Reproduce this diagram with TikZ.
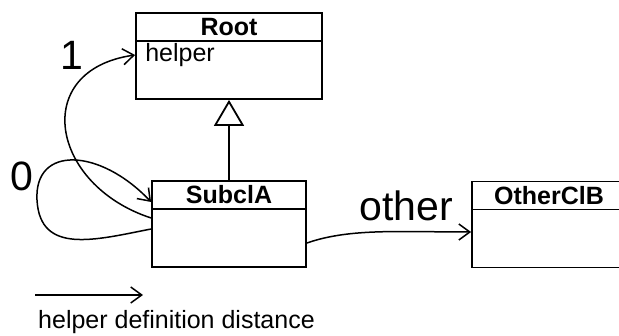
\documentclass[tikz,border=0pt]{standalone}
\usepackage{fontspec}
\setmainfont{Liberation Sans}
\usepackage{tikz}
\usetikzlibrary{
  positioning,
  calc,
  arrows.meta
}

\tikzset{
  classbox/.style={draw,line width=1.8pt,inner sep=0pt,minimum width=154pt,minimum height=86pt},
  classtitle/.style={font=\fontsize{25}{28}\selectfont\bfseries,inner sep=0pt},
  member/.style={font=\fontsize{25}{28}\selectfont,inner sep=0pt,anchor=west},
  biglabel/.style={font=\fontsize{41}{44}\selectfont,inner sep=0pt},
  ref/.style={line width=1.5pt,-{Straight Barb[length=11pt,width=16pt,line width=1.5pt]}},
  inherit/.style={line width=1.8pt,-{Triangle[open,length=26pt,width=30pt,line width=1.8pt]}}
}

\begin{document}
\begin{tikzpicture}[x=1pt,y=-1pt]
  \useasboundingbox (0,0) rectangle (619,336);

  % classes
  \node[classbox,minimum width=186pt] (root) at (229,56) {};
  \node[classbox] (subcla) at (229,224) {};
  \node[classbox] (otherclb) at (549,224.5) {};

  \foreach \c/\t in {root/Root,subcla/SubclA,otherclb/OtherClB}{
    \draw[line width=1.8pt] ([yshift=-29pt]\c.north west) -- ([yshift=-29pt]\c.north east);
    \node[classtitle] (\c-title) at ([yshift=-14.5pt]\c.north) {\t};
  }
  \node[member] (helper) at ([xshift=10pt,yshift=1pt]root.west) {helper};

  % generalisation
  \draw[inherit] (subcla.north) -- (root.south);

  % helper references
  \draw[ref] ([yshift=6pt]subcla.west) .. controls (50,185) and (30,70) .. ([yshift=1pt]root.west);
  \draw[ref] ([yshift=-5pt]subcla.west) .. controls (95,240) and (40,255) .. (37,200)
    .. controls (34,145) and (100,148) .. ([yshift=22pt]subcla.west);
  \draw[ref] ([yshift=-19pt]subcla.east) .. controls (350,228) and (400,232) .. ([yshift=-7.5pt]otherclb.west);

  \node[biglabel] (one) at (72,55) {1};
  \node[biglabel] (zero) at (22,176) {0};
  \node[biglabel] (other) at (406,206) {other};

  % legend
  \coordinate (leg-a) at (35,295);
  \coordinate (leg-b) at (143,295);
  \draw[ref] (leg-a) -- (leg-b);
  \node[member,anchor=base west] (legtext) at (38,329) {helper definition distance};
\end{tikzpicture}
\end{document}
